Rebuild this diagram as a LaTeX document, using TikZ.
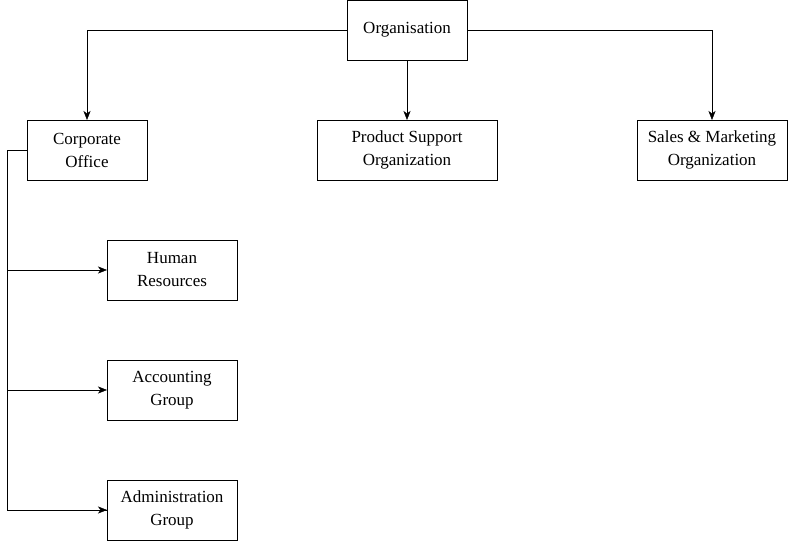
\documentclass[tikz,border=0pt]{standalone}
\usepackage{fontspec}
\setmainfont{Liberation Serif}
\usetikzlibrary{shapes,arrows.meta,positioning}
\tikzstyle{block} = [draw, rectangle, minimum height=60pt, minimum width=120pt, align=center, inner sep=2pt, outer sep=0pt, font=\fontsize{17}{23}\selectfont]
\tikzstyle{wide} = [block, minimum width=180pt]
\tikzstyle{mid} = [block, minimum width=150pt]
\tikzstyle{sub} = [block, minimum width=130pt]

\begin{document}
\begin{tikzpicture}[auto, x=1pt, y=-1pt, >={Stealth[length=9pt,width=7pt,inset=2.5pt]}]
    \useasboundingbox (0,0) rectangle (788,541);
 % nodes
    \node [block, name=org] at (407,30) {Organisation};
    \node [wide, below=60pt of org, name=product] {Product Support\\Organization};
    \node [block, name=corporate] at (87,150) {Corporate\\Office};
    \node [mid, name=sales] at (712,150) {Sales \& Marketing\\Organization};
    \node [sub, name=human] at (172,270) {Human\\Resources};
    \node [sub, below=60pt of human, name=accounting] {Accounting\\Group};
    \node [sub, below=60pt of accounting, name=admin] {Administration\\Group};
    \coordinate (trunk) at (7,150);
    % edges
    \draw [->] (org.west) -| (corporate.north);
    \draw [->] (org) -- (product);
    \draw [->] (org.east) -| (sales.north);
    \draw [-] (corporate.west) -- (trunk) |- (admin.west);
    \draw [->] (trunk) |- (human.west);
    \draw [->] (trunk) |- (accounting.west);
    \draw [->] (trunk) |- (admin.west);
\end{tikzpicture}
\end{document}
